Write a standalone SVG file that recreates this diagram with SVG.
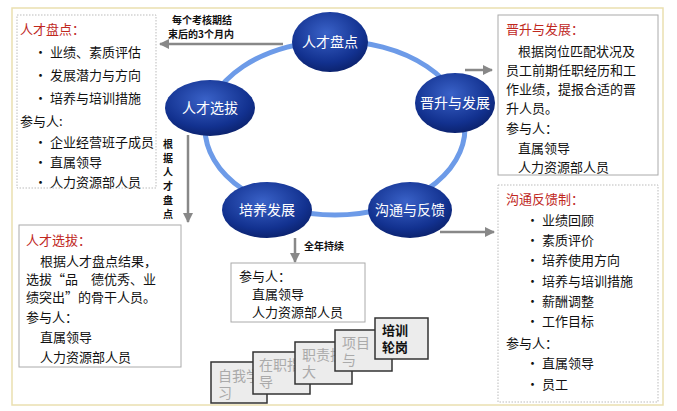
<svg xmlns="http://www.w3.org/2000/svg" width="677" height="411" viewBox="0 0 677 411">
<defs>
<radialGradient id="g" cx="0.45" cy="0.35" r="0.7"><stop offset="0" stop-color="#3a62c8"/><stop offset="0.7" stop-color="#12318f"/><stop offset="1" stop-color="#0a1f66"/></radialGradient>
<marker id="a" viewBox="0 0 10 10" refX="9" refY="5" markerWidth="4" markerHeight="4" orient="auto"><path d="M0,0L10,5L0,10z" fill="#888"/></marker>
</defs>
<style>
text{font-family:"Noto Sans CJK SC","Liberation Sans",sans-serif;font-size:13px;fill:#111}
.r{fill:#c0281e}
.n{fill:#fff;font-size:14px;text-anchor:middle}
.s{font-size:10px;font-weight:bold}
.box{fill:#fff;stroke:#aaa}
.dot{fill:#fff;stroke:#bbb;stroke-dasharray:1.5 1.5}
.st{fill:#ececec;stroke:#333;stroke-width:1.5}
.sg{fill:#aaa;font-size:14px}
.ar{stroke:#888;stroke-width:2.5;fill:none;marker-end:url(#a)}
</style>
<rect x="0" y="0" width="677" height="411" fill="#fff"/>
<rect x="12" y="8" width="651" height="397" fill="#fff" stroke="#eadfb0" stroke-width="1.5"/>
<ellipse cx="335" cy="128" rx="130" ry="87" fill="none" stroke="#6d9be8" stroke-width="5"/>
<g id="connectors">
<line class="ar" x1="283" y1="44" x2="160" y2="44"/>
<text class="s" x="172" y="24">每个考核期结</text><text class="s" x="168" y="38">束后的3个月内</text>
<line class="ar" x1="188" y1="135" x2="188" y2="222"/>
<text class="s" x="163" y="148">根</text><text class="s" x="163" y="162">据</text><text class="s" x="163" y="176">人</text><text class="s" x="163" y="190">才</text><text class="s" x="163" y="204">盘</text><text class="s" x="163" y="218">点</text>
<line class="ar" x1="465" y1="70" x2="492" y2="70"/>
<line class="ar" x1="440" y1="232" x2="494" y2="232"/>
<line class="ar" x1="295" y1="238" x2="295" y2="262"/>
<text class="s" x="304" y="250">全年持续</text>
</g>
<g id="n1"><ellipse cx="330" cy="42" rx="38" ry="30" fill="url(#g)"/><text class="n" x="330" y="47">人才盘点</text></g>
<g id="n2"><ellipse cx="210" cy="108" rx="45" ry="28" fill="url(#g)"/><text class="n" x="210" y="113">人才选拔</text></g>
<g id="n3"><ellipse cx="455" cy="103" rx="40" ry="30" fill="url(#g)"/><text class="n" x="455" y="108">晋升与发展</text></g>
<g id="n4"><ellipse cx="267" cy="210" rx="45" ry="28" fill="url(#g)"/><text class="n" x="267" y="215">培养发展</text></g>
<g id="n5"><ellipse cx="410" cy="210" rx="42" ry="28" fill="url(#g)"/><text class="n" x="410" y="215">沟通与反馈</text></g>
<g id="b1"><rect class="dot" x="17" y="15" width="139" height="173"/>
<text class="r" x="20" y="34">人才盘点：</text>
<text x="34" y="57">·  业绩、素质评估</text><text x="34" y="80">·  发展潜力与方向</text><text x="34" y="103">·  培养与培训措施</text>
<text x="20" y="126">参与人:</text>
<text x="34" y="147">·  企业经营班子成员</text><text x="34" y="167">·  直属领导</text><text x="34" y="187">·  人力资源部人员</text></g>
<g id="b2"><rect class="box" x="19" y="225" width="162" height="142"/>
<text class="r" x="26" y="245">人才选拔：</text>
<text x="40" y="266">根据人才盘点结果，</text><text x="26" y="284">选拔“品　德优秀、业</text><text x="26" y="302">绩突出”的骨干人员。</text>
<text x="26" y="322">参与人：</text><text x="40" y="342">直属领导</text><text x="40" y="362">人力资源部人员</text></g>
<g id="b3"><rect class="box" x="498" y="15" width="160" height="160"/>
<text class="r" x="506" y="34">晋升与发展：</text>
<text x="518" y="56">根据岗位匹配状况及</text><text x="506" y="75">员工前期任职经历和工</text><text x="506" y="94">作业绩，提报合适的晋</text><text x="506" y="113">升人员。</text>
<text x="506" y="133">参与人：</text><text x="518" y="153">直属领导</text><text x="518" y="172">人力资源部人员</text></g>
<g id="b4"><rect class="dot" x="498" y="185" width="160" height="217"/>
<text class="r" x="506" y="204">沟通反馈制：</text>
<text x="526" y="225">·  业绩回顾</text><text x="526" y="245">·  素质评价</text><text x="526" y="265">·  培养使用方向</text><text x="526" y="286">·  培养与培训措施</text><text x="526" y="306">·  薪酬调整</text><text x="526" y="326">·  工作目标</text>
<text x="506" y="348">参与人：</text><text x="526" y="368">·  直属领导</text><text x="526" y="389">·  员工</text></g>
<g id="b5"><rect class="box" x="231" y="263" width="134" height="59"/>
<text x="239" y="281">参与人：</text><text x="252" y="299">直属领导</text><text x="252" y="317">人力资源部人员</text></g>
<g id="steps">
<rect class="st" x="211" y="362" width="56" height="41"/><text class="sg" x="218" y="381">自我学</text><text class="sg" x="218" y="398">习</text>
<rect class="st" x="253" y="352" width="57" height="42"/><text class="sg" x="259" y="370">在职指</text><text class="sg" x="259" y="387">导</text>
<rect class="st" x="295" y="342" width="57" height="42"/><text class="sg" x="302" y="360">职责扩</text><text class="sg" x="302" y="377">大</text>
<rect class="st" x="335" y="330" width="57" height="41"/><text class="sg" x="342" y="348">项目</text><text class="sg" x="342" y="365">与</text>
<rect class="st" x="375" y="318" width="53" height="41" fill="#e4e4e4"/><text x="382" y="335" font-weight="bold">培训</text><text x="382" y="352" font-weight="bold">轮岗</text>
</g>
</svg>
